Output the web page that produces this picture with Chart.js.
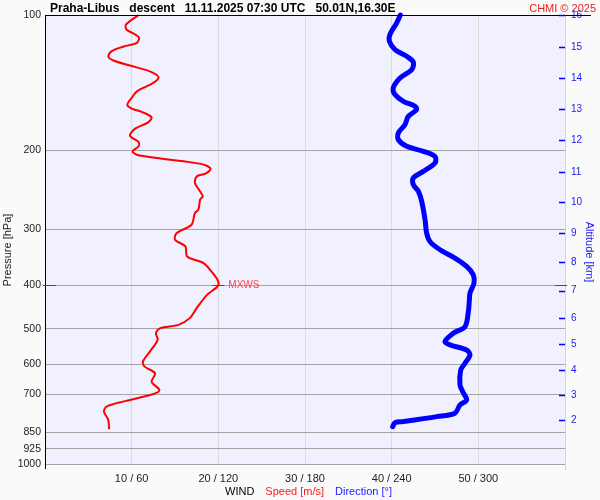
<!DOCTYPE html>
<html><head><meta charset="utf-8">
<script src="https://cdn.jsdelivr.net/npm/chart.js@4.4.1/dist/chart.umd.min.js"></script>
<style>html,body{margin:0;padding:0;background:#fafafa;}</style>
</head><body>
<canvas id="c" width="600" height="500"></canvas>
<script>
// ---- text ----
const titleText = 'Praha-Libus   descent   11.11.2025 07:30 UTC   50.01N,16.30E';
const creditText = 'CHMI \u00A9 2025';
const yTitle = 'Pressure [hPa]';
const y2Title = 'Altitude [km]';
const legendParts = ['WIND', 'Speed [m/s]', 'Direction [\u00B0]'];
const maxWindLabel = 'MXWS';

// ---- tick labels ----
const pressureTicks = [100, 200, 300, 400, 500, 600, 700, 850, 925, 1000];
const speedTicks = [10, 20, 30, 40, 50];
const dirTicks = [60, 120, 180, 240, 300];
const altKm = [2, 3, 4, 5, 6, 7, 8, 9, 10, 11, 12, 13, 14, 15, 16];
const altHPa = [799, 703, 617, 541, 473, 411, 355, 306, 261.5, 224, 190, 162, 138, 118, 100.1];

// ---- wind speed profile ----
const pressureSpeed = [100, 105.0, 107.7, 110.5, 112.4, 115.3, 117.7, 120.4, 123.6, 126.3, 129.6, 133.5, 137.6, 141.6, 147.9, 153.0, 158.4, 161.6, 164.7, 169.0, 173.4, 179.1, 185.7, 191.8, 196.1, 201.2, 204.7, 208.2, 211.8, 215.4, 219.9, 225.6, 228.8, 236.6, 247.1, 253.5, 257.8, 271.4, 276.1, 293.2, 305.9, 316.6, 327.7, 345.0, 356.9, 372.6, 388.8, 400, 420.1, 449.6, 473.3, 489.9, 498.2, 511.2, 529.1, 562.1, 591.7, 607.0, 628.0, 655.7, 684.2, 698.4, 726.2, 745.1, 764.5, 797.8, 836.8];
const speedMs = [10.8, 9.35, 9.4, 10.4, 10.85, 10.6, 9.0, 7.7, 7.3, 7.9, 9.8, 12.1, 13.1, 12.5, 10.6, 10.0, 9.5, 10.0, 11.3, 12.3, 11.9, 10.4, 9.8, 10.8, 10.8, 10.1, 10.6, 12.9, 16.0, 18.3, 19.1, 18.5, 17.5, 17.3, 17.9, 18.2, 17.9, 17.7, 17.3, 16.9, 15.2, 15.0, 16.2, 16.4, 18.3, 19.2, 19.9, 20.0, 18.7, 17.5, 16.7, 15.4, 13.3, 12.8, 13.0, 12.1, 11.3, 11.5, 12.7, 12.3, 13.2, 12.5, 9.0, 7.1, 6.8, 7.3, 7.4];

// ---- wind direction profile ----
const pressureDir = [100, 104.1, 110.5, 114.4, 119.4, 123.6, 127.4, 132.3, 138.1, 145.3, 150.4, 155.7, 159.7, 162.5, 168.2, 175.5, 183.1, 189.5, 196.1, 201.2, 206.5, 213.6, 223.0, 230.7, 238.7, 247.1, 260.1, 285.7, 305.9, 319.4, 333.3, 347.8, 363.1, 379.0, 395.6, 416.5, 431.1, 457.6, 494.2, 511.2, 533.7, 542.9, 557.2, 571.3, 596.5, 617.4, 666.6, 690.2, 719.9, 738.6, 770.8, 784.4, 804.7, 808.9, 825.7];
const directionDeg = [246, 243.5, 238.8, 238.4, 242.3, 250.4, 255.0, 253.9, 245.8, 241.1, 242.3, 248.1, 256.2, 257.3, 251.5, 249.2, 244.6, 244.6, 250.4, 261.9, 270.0, 270.0, 261.9, 255.0, 255.0, 258.5, 260.8, 263.1, 264.2, 266.5, 273.5, 283.8, 291.9, 296.5, 297.0, 294.2, 293.8, 293.1, 290.8, 282.7, 276.9, 280.4, 291.9, 294.2, 290.8, 287.8, 287.3, 289.2, 291.9, 287.3, 283.8, 271.2, 248.1, 242.3, 240.7];

const FONT = '"Liberation Sans", Arial, Helvetica, sans-serif';

const framePlugin = {
  id: 'frame',
  beforeDraw(chart) {
    const { ctx, chartArea: a } = chart;
    ctx.save();
    ctx.fillStyle = '#fafafa';
    ctx.fillRect(0, 0, chart.width, chart.height);
    ctx.fillStyle = '#f0f0fe';
    ctx.fillRect(a.left, a.top, a.right - a.left, a.bottom - a.top);
    ctx.restore();
  },
  afterDraw(chart) {
    const { ctx, chartArea: a, scales } = chart;
    const xs = scales.x, ys = scales.y, y2 = scales.y2;
    ctx.save();
    ctx.lineWidth = 1;
    // right border
    ctx.strokeStyle = '#d4d4d4';
    ctx.beginPath(); ctx.moveTo(a.right + 0.5, a.top); ctx.lineTo(a.right + 0.5, a.bottom + 6); ctx.stroke();
    // left axis
    ctx.strokeStyle = '#000';
    ctx.beginPath(); ctx.moveTo(a.left + 0.5, a.top); ctx.lineTo(a.left + 0.5, a.bottom + 5); ctx.stroke();
    // top line
    ctx.beginPath(); ctx.moveTo(a.left, a.top + 0.5); ctx.lineTo(chart.width - 9, a.top + 0.5); ctx.stroke();

    // altitude tick marks
    ctx.strokeStyle = '#0000ff';
    ctx.lineWidth = 1.5;
    altHPa.forEach(p => {
      const py = Math.round(y2.getPixelForValue(p)) + 0.5;
      ctx.beginPath(); ctx.moveTo(a.right - 6, py); ctx.lineTo(a.right, py); ctx.stroke();
    });

    // max wind marker
    let im = 0;
    speedMs.forEach((v, i) => { if (v > speedMs[im]) im = i; });
    const mx = xs.getPixelForValue(speedMs[im]);
    const my = Math.round(ys.getPixelForValue(pressureSpeed[im])) + 0.5;
    ctx.strokeStyle = '#ff0000';
    ctx.lineWidth = 1;
    ctx.beginPath(); ctx.moveTo(mx - 6, my); ctx.lineTo(mx + 6, my); ctx.stroke();
    ctx.beginPath(); ctx.moveTo(a.left - 2, my); ctx.lineTo(a.left + 11, my); ctx.stroke();
    ctx.beginPath(); ctx.moveTo(a.right - 10, my); ctx.lineTo(a.right + 2, my); ctx.stroke();
    ctx.font = '10px ' + FONT;
    ctx.fillStyle = '#ff4848';
    ctx.textAlign = 'left'; ctx.textBaseline = 'middle';
    ctx.fillText(maxWindLabel, mx + 10, my);

    // title
    ctx.textBaseline = 'alphabetic';
    ctx.font = 'bold 12px ' + FONT;
    ctx.fillStyle = '#000';
    ctx.textAlign = 'left';
    ctx.fillText(titleText, 50, 12);
    ctx.font = '11px ' + FONT;
    ctx.fillStyle = '#ee1c1c';
    ctx.textAlign = 'right';
    ctx.fillText(creditText, 596, 12);

    // axis titles
    ctx.font = '11px ' + FONT;
    ctx.textAlign = 'center'; ctx.textBaseline = 'middle';
    ctx.save();
    ctx.translate(8, 250); ctx.rotate(-Math.PI / 2);
    ctx.fillStyle = '#222';
    ctx.fillText(yTitle, 0, 0);
    ctx.restore();
    ctx.save();
    ctx.translate(589, 252); ctx.rotate(Math.PI / 2);
    ctx.fillStyle = '#1a1aee';
    ctx.fillText(y2Title, 0, 0);
    ctx.restore();

    // x legend line
    const colors = ['#000', '#ff1a1a', '#1a1aff'];
    ctx.textAlign = 'left'; ctx.textBaseline = 'alphabetic';
    let lx = 225;
    legendParts.forEach((t, i) => {
      ctx.fillStyle = colors[i];
      ctx.fillText(t, lx, 495);
      lx += ctx.measureText(t).width + 11;
    });
    ctx.restore();
  }
};

const xTickValues = [0].concat(speedTicks, [60]);

new Chart(document.getElementById('c'), {
  type: 'scatter',
  data: {
    datasets: [
      {
        label: 'Direction',
        data: pressureDir.map((p, i) => ({ x: directionDeg[i], y: p })),
        xAxisID: 'x2', yAxisID: 'y',
        showLine: true, borderColor: '#0000ff', borderWidth: 5,
        pointRadius: 0, tension: 0.3, clip: false,
        borderCapStyle: 'round', borderJoinStyle: 'round'
      },
      {
        label: 'Speed',
        data: pressureSpeed.map((p, i) => ({ x: speedMs[i], y: p })),
        xAxisID: 'x', yAxisID: 'y',
        showLine: true, borderColor: '#ff0000', borderWidth: 2,
        pointRadius: 0, tension: 0.3, clip: false
      }
    ]
  },
  options: {
    responsive: false,
    animation: false,
    devicePixelRatio: 1,
    layout: { padding: { top: 15, left: 0, right: 0, bottom: 0 } },
    plugins: { legend: { display: false }, tooltip: { enabled: false }, title: { display: false } },
    scales: {
      x: {
        type: 'linear', position: 'bottom', min: 0, max: 60,
        afterBuildTicks: s => { s.ticks = xTickValues.map(v => ({ value: v })); },
        afterFit: s => { s.height = 36; },
        ticks: {
          callback: v => { const i = speedTicks.indexOf(v); return i >= 0 ? speedTicks[i] + ' / ' + dirTicks[i] : ''; },
          font: { family: FONT, size: 11 }, color: '#222', padding: 8, maxRotation: 0, autoSkip: false
        },
        grid: { color: c => (c.tick && (c.tick.value === 0 || c.tick.value === 60)) ? 'rgba(0,0,0,0)' : '#dcdcdc', drawTicks: false, lineWidth: 1 },
        border: { display: false }
      },
      x2: { type: 'linear', min: 0, max: 360, display: false },
      y: {
        type: 'logarithmic', position: 'left', reverse: true, min: 100, max: 1000,
        afterBuildTicks: s => { s.ticks = pressureTicks.map(v => ({ value: v })); },
        afterFit: s => { s.width = 45; },
        ticks: { callback: v => String(v), font: { family: FONT, size: 10.5 }, color: '#222', padding: 4, autoSkip: false },
        grid: { color: c => (c.tick && c.tick.value === 100) ? 'rgba(0,0,0,0)' : '#a4a4a4', drawTicks: false, lineWidth: 1 },
        border: { display: false }
      },
      y2: {
        type: 'logarithmic', position: 'right', reverse: true, min: 100, max: 1000,
        afterBuildTicks: s => { s.ticks = altHPa.map(v => ({ value: v })); },
        afterFit: s => { s.width = 35; },
        ticks: {
          callback: (v, i) => String(altKm[i]),
          font: { family: FONT, size: 10 }, color: '#1a1aee', padding: 6, autoSkip: false
        },
        grid: { display: false, drawTicks: false },
        border: { display: false }
      }
    }
  },
  plugins: [framePlugin]
});
</script>
</body></html>
